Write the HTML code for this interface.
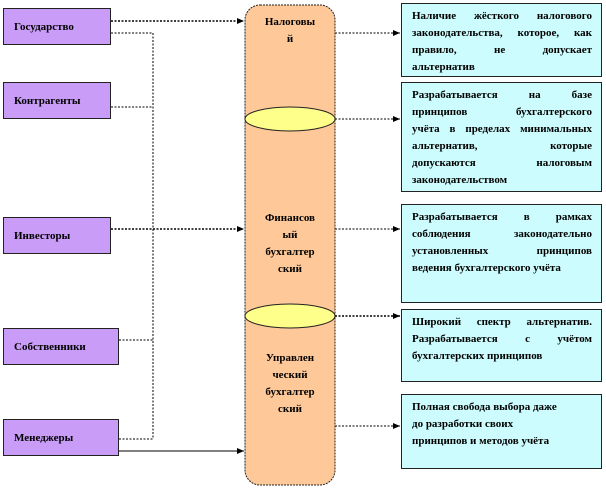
<!DOCTYPE html>
<html><head><meta charset="utf-8"><style>
body{margin:0;width:606px;height:488px;background:#fff;position:relative;overflow:hidden;font-family:"Liberation Serif","DejaVu Serif",serif;font-weight:bold;font-size:11px;color:#000}
.l{position:absolute;background:#c99cf7;border:1px solid #222;box-sizing:border-box;padding-left:10px;display:flex;align-items:center;font-size:11px}
.r{position:absolute;left:401px;width:201px;background:#ccfcfd;border:1px solid #222;box-sizing:border-box;padding:4px 9px 0 10px;line-height:17px;font-size:11px;white-space:nowrap}
.r .j{text-align:justify;text-align-last:justify}
.c{position:absolute;left:245px;width:90px;text-align:center;line-height:17px;font-size:11px}
svg{position:absolute;left:0;top:0}
</style></head><body>
<svg width="606" height="488">
<defs><marker id="a" markerWidth="8" markerHeight="8" refX="7" refY="4" orient="auto" markerUnits="userSpaceOnUse"><path d="M0,1 L7,4 L0,7z" fill="#000"/></marker></defs>
<rect x="245" y="5" width="90" height="480" rx="15" fill="#fec898" stroke="#222" stroke-dasharray="2,1"/>
<ellipse cx="290" cy="119" rx="45" ry="12" fill="#fefe8a" stroke="#222"/>
<ellipse cx="290" cy="316" rx="45" ry="12" fill="#fefe8a" stroke="#222"/>
<g stroke="#000" fill="none" stroke-dasharray="2,1.5">
<path d="M111 33H153V439M111 107H153M119 340H153M119 439H153"/>
<path d="M111 21H244" stroke-width="1.5" marker-end="url(#a)"/>
<path d="M111 229H244" stroke-width="1.5" marker-end="url(#a)"/>
<path d="M335 33H400" marker-end="url(#a)"/>
<path d="M335 119H400" marker-end="url(#a)"/>
<path d="M335 229H400" marker-end="url(#a)"/>
<path d="M335 316H400" stroke-width="1.5" marker-end="url(#a)"/>
<path d="M335 426H400" marker-end="url(#a)"/>
</g>
<path d="M119 451H244" stroke="#000" marker-end="url(#a)"/>
</svg>
<div class="l" style="left:3px;top:8px;width:108px;height:37px">Государство</div>
<div class="l" style="left:3px;top:82px;width:108px;height:37px">Контрагенты</div>
<div class="l" style="left:3px;top:217px;width:108px;height:37px">Инвесторы</div>
<div class="l" style="left:3px;top:328px;width:116px;height:37px">Собственники</div>
<div class="l" style="left:3px;top:419px;width:116px;height:37px">Менеджеры</div>
<div class="c" style="top:14px">Налоговы<br>й</div>
<div class="c" style="top:210px">Финансов<br>ый<br>бухгалтер<br>ский</div>
<div class="c" style="top:350px">Управлен<br>ческий<br>бухгалтер<br>ский</div>
<div class="r" style="top:3px;height:74px"><div class="j">Наличие жёсткого налогового</div><div class="j">законодательства, которое, как</div><div class="j">правило, не допускает</div><div>альтернатив</div></div>
<div class="r" style="top:82px;height:110px"><div class="j">Разрабатывается на базе</div><div class="j">принципов бухгалтерского</div><div class="j">учёта в пределах минимальных</div><div class="j">альтернатив, которые</div><div class="j">допускаются налоговым</div><div>законодательством</div></div>
<div class="r" style="top:204px;height:99px"><div class="j">Разрабатывается в рамках</div><div class="j">соблюдения законодательно</div><div class="j">установленных принципов</div><div>ведения бухгалтерского учёта</div></div>
<div class="r" style="top:309px;height:73px"><div class="j">Широкий спектр альтернатив.</div><div class="j">Разрабатывается с учётом</div><div>бухгалтерских принципов</div></div>
<div class="r" style="top:394px;height:75px"><div>Полная свобода выбора даже</div><div>до разработки своих</div><div>принципов и методов учёта</div></div>
</body></html>
